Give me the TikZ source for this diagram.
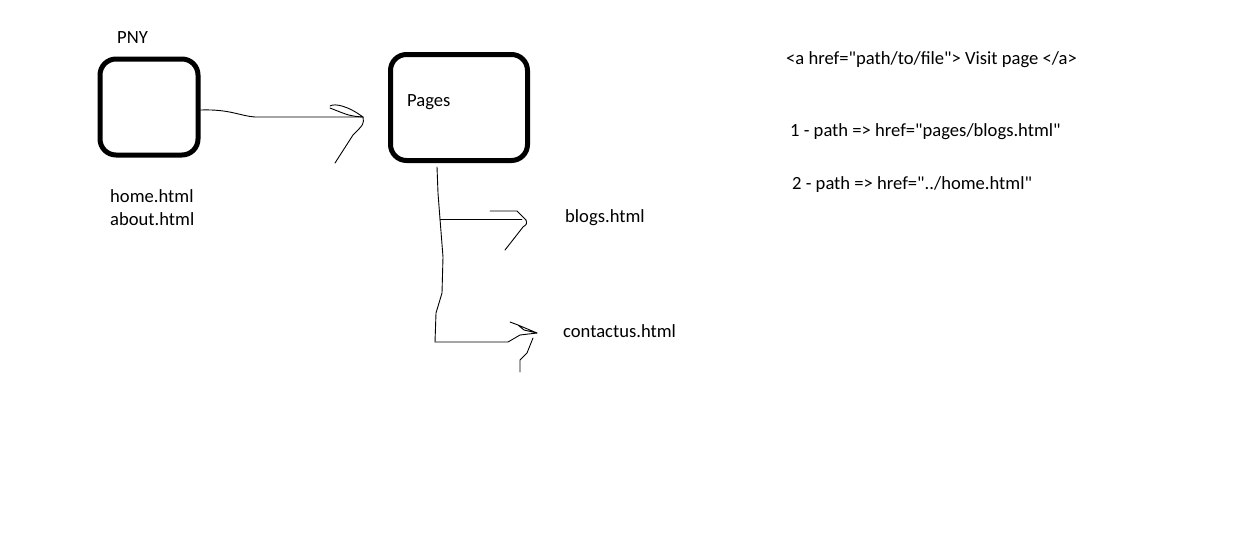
\documentclass[tikz,border=0pt]{standalone}
\usepackage{fontspec}
\setmainfont{Carlito}[Ligatures=TeXOff]
\begin{document}
\begin{tikzpicture}[x=1pt,y=-1pt,
    box/.style={draw,line width=5pt,rounded corners=16pt},
    txt/.style={inner sep=0pt,anchor=west,font=\fontsize{18.6}{23}\selectfont,align=left},
    scrawl/.style={line width=0.9pt,line join=round,line cap=round}]
  \useasboundingbox (0,0) rectangle (1233,533);
  % boxes
  \node[box,minimum width=98pt,minimum height=96pt] (pny) at (149,107) {};
  \node[box,minimum width=137pt,minimum height=106pt] (pages) at (459,107.5) {};
  % labels
  \node[txt] (pnytext) at (117,38) {PNY};
  \node[txt] (files) at (110,208) {home.html\\about.html};
  \node[txt] (pagestext) at (407,102) {Pages};
  \node[txt] (blogs) at (565,218) {blogs.html};
  \node[txt] (contact) at (563,331) {contactus.html};
  \node[txt] (anchortag) at (786,60) {<a href="path/to/file"> Visit page </a>};
  \node[txt] (pathone) at (790,132) {1 - path => href="pages/blogs.html"};
  \node[txt] (pathtwo) at (792,185) {2 - path => href="../home.html"};
  % free ends of the arrows
  \coordinate (tipone) at (363,117);
  \coordinate (split) at (440,219);
  \coordinate (tiptwo) at (526,220);
  \coordinate (corner) at (435,342);
  \coordinate (tipthree) at (537,333);
  \begin{scope}[scrawl]
    \draw (pny.east |- 0,110) .. controls (230,109) and (240,116) .. (255,117) -- (tipone);
    \draw (330,106) .. controls (335,103) and (348,106) .. (tipone) .. controls (350,116) .. (330,108);
    \draw (tipone) .. controls (364,124) .. (353,135) -- (335,163);
    \draw (437,167) -- (438,193) -- (split) -- (443,257) -- (442,293) -- (436,313) -- (corner);
    \draw (split) -- (522,219);
    \draw (490,211) -- (517,211) -- (tiptwo);
    \draw (tiptwo) .. controls (527,224) .. (523,227) -- (505,250);
    \draw (corner) -- (487,342) -- (508,342) -- (520,335) -- (tipthree);
    \draw (510,322) -- (518,325) -- (tipthree) -- (524,330) -- (518,325);
    \draw (533,338) -- (527,353) -- (520,360) -- (520,372);
  \end{scope}
\end{tikzpicture}
\end{document}
